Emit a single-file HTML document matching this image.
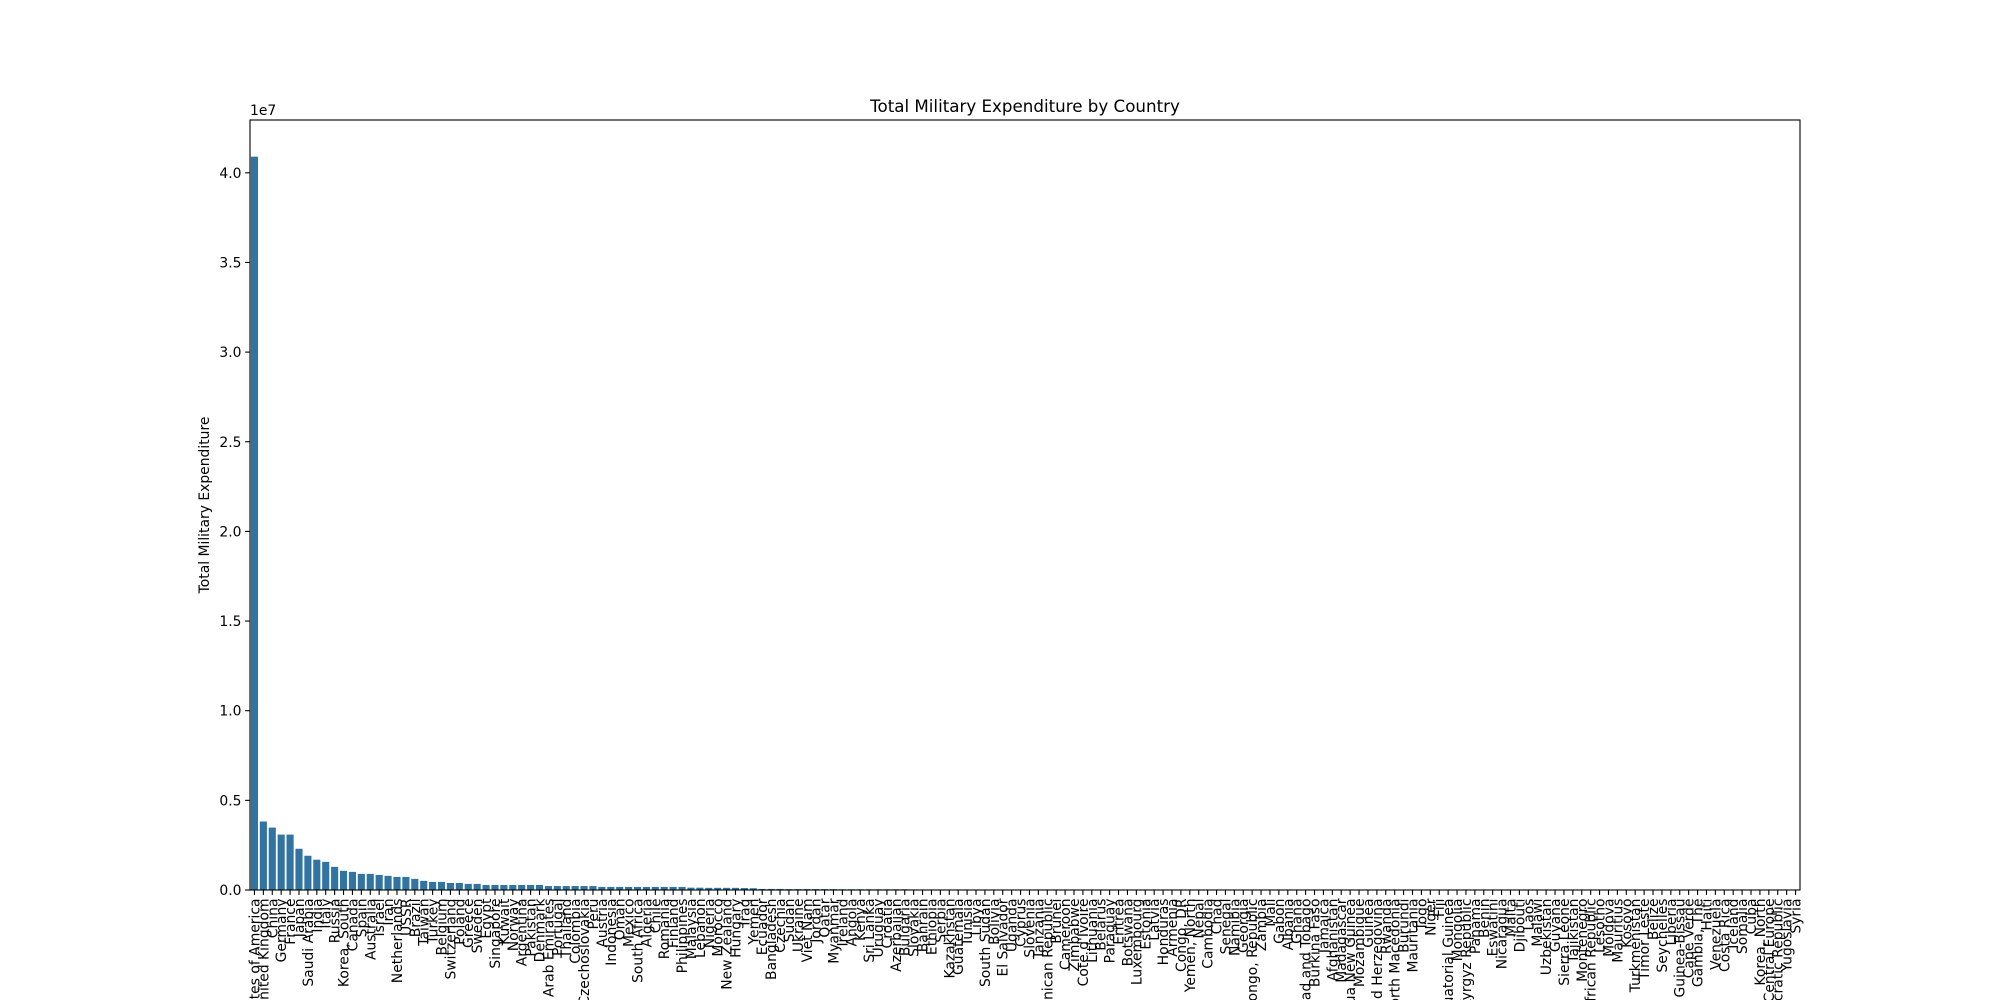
<!DOCTYPE html>
<html><head><meta charset="utf-8"><style>
html,body{margin:0;padding:0;background:#fff;width:2000px;height:1000px;overflow:hidden}
svg{display:block}
svg text{font-family:"DejaVu Sans","Liberation Sans",sans-serif;fill:#000}
</style></head><body>
<svg id="chart" width="2000" height="1000" viewBox="0 0 2000 1000" overflow="hidden" xmlns="http://www.w3.org/2000/svg"></svg>
<script>
const countries = ["United States of America","United Kingdom","China","Germany","France","Japan","Saudi Arabia","India","Italy","Russia","Korea, South","Canada","Spain","Australia","Israel","Iran","Netherlands","USSR","Brazil","Taiwan","Turkey","Belgium","Switzerland","Poland","Greece","Sweden","Egypt","Singapore","Kuwait","Norway","Argentina","Pakistan","Denmark","United Arab Emirates","Portugal","Thailand","Colombia","Czechoslovakia","Peru","Austria","Indonesia","Oman","Mexico","South Africa","Algeria","Chile","Romania","Finland","Philippines","Malaysia","Lebanon","Nigeria","Morocco","New Zealand","Hungary","Iraq","Yemen","Ecuador","Bangladesh","Czechia","Sudan","Ukraine","Viet Nam","Jordan","Qatar","Myanmar","Ireland","Angola","Kenya","Sri Lanka","Uruguay","Croatia","Azerbaijan","Bulgaria","Slovakia","Bahrain","Ethiopia","Serbia","Kazakhstan","Guatemala","Tunisia","Libya","South Sudan","Bolivia","El Salvador","Uganda","Cyprus","Slovenia","Tanzania","Dominican Republic","Brunei","Cameroon","Zimbabwe","Cote d'Ivoire","Lithuania","Belarus","Paraguay","Eritrea","Botswana","Luxembourg","Estonia","Latvia","Honduras","Armenia","Congo, DR","Yemen, North","Nepal","Cambodia","Chad","Senegal","Namibia","Georgia","Congo, Republic","Zambia","Mali","Gabon","Albania","Ghana","Trinidad and Tobago","Burkina Faso","Jamaica","Afghanistan","Madagascar","Papua New Guinea","Mozambique","Guinea","Bosnia and Herzegovina","Rwanda","North Macedonia","Burundi","Mauritania","Togo","Niger","Fiji","Equatorial Guinea","Mongolia","Kyrgyz Republic","Panama","Benin","Eswatini","Nicaragua","Malta","Djibouti","Laos","Malawi","Uzbekistan","Guyana","Sierra Leone","Tajikistan","Montenegro","Central African Republic","Lesotho","Moldova","Mauritius","Kosovo","Turkmenistan","Timor Leste","Belize","Seychelles","Liberia","Guinea-Bissau","Cape Verde","Gambia, The","Haiti","Venezuela","Costa Rica","Iceland","Somalia","Cuba","Korea, North","Central Europe","Democratic Republic","Yugoslavia","Syria"];
const headValues = [4.09,0.382,0.348,0.309,0.309,0.230,0.191,0.169,0.157,0.129,0.107,0.101,0.090,0.090,0.084,0.079,0.073,0.073,0.062,0.051,0.045,0.045,0.039,0.039,0.034,0.034,0.028,0.028,0.028,0.028,0.028,0.028,0.028,0.022,0.022,0.022,0.022,0.022,0.022,0.017,0.017,0.017,0.017,0.017,0.017,0.017,0.017,0.017,0.017,0.013,0.013,0.012,0.012,0.012,0.012,0.011,0.010,0.006,0.006,0.006,0.005,0.005,0.005,0.005,0.005,0.005,0.004,0.004,0.004,0.004,0.004,0.004,0.004,0.004,0.003,0.003,0.003,0.003];
const tailValues = [0.002,0.002,0.002,0.002,0.002,0.002,0.002,0.002,0.001,0.001,0.001,0.001,0.001,0.001,0.001,0.001,0.001,0.001,0.001,0.001,0.001,0.001,0.001,0.001,0.001,0.001,0.0008,0.0008,0.0008,0.0008,0.0008,0.0008,0.0008,0.0008,0.0006,0.0006,0.0006,0.0006,0.0006,0.0006,0.0006,0.0006,0.0005,0.0005,0.0005,0.0005,0.0005,0.0005,0.0005,0.0005,0.0004,0.0004,0.0004,0.0004,0.0004,0.0004,0.0004,0.0004,0.0003,0.0003,0.0003,0.0003,0.0003,0.0003,0.0003,0.0003,0.0002,0.0002,0.0002,0.0002,0.0002,0.0002,0.0002,0.0002,0.0001,0.0001,0.0001,0.0001,0.0001,0.0001,0.0001,0.0001,0.0001,0.0001,0.0001,0.0001,0.0001,0.0001,0.0001,0.0001,0.0001,0.0001,0.0001];
const yTicks = [0,0.5,1.0,1.5,2.0,2.5,3.0,3.5,4.0];
const yTickLabels = ["0.0","0.5","1.0","1.5","2.0","2.5","3.0","3.5","4.0"];

const values = countries.map((c,i)=> i<headValues.length ? headValues[i] : (tailValues[i-headValues.length] ?? 0));
const svg = document.getElementById('chart');
const NS = "http://www.w3.org/2000/svg";
const L=250,R=1800,T=120,B=890;
const n=countries.length;
const ymax=Math.max(...values)*1.05;
const xs = i => L + (i+0.5)/n*(R-L);
const ys = v => B - v/ymax*(B-T);
function mk(tag, attrs){const e=document.createElementNS(NS,tag);for(const k in attrs)e.setAttribute(k,attrs[k]);svg.appendChild(e);return e;}

const bw=0.8*(R-L)/n;
values.forEach((v,i)=>{
  const r=mk('rect',{x:xs(i)-bw/2,y:ys(v),width:bw,height:B-ys(v),fill:'#3274a1'});
  
  
});
countries.forEach((c,i)=>{
  const x=xs(i);
  const t=mk('line',{x1:x,x2:x,y1:B,y2:B+4.9,stroke:'#000','stroke-width':1.1});
  
  
  const tx=mk('text',{x:0,y:0,'font-size':'13.9','text-anchor':'end',transform:`translate(${x+5},${B+8.5}) rotate(-90)`});
  tx.textContent=c;
  
  
});
yTicks.forEach((v,i)=>{
  const y=ys(v);
  const t=mk('line',{x1:L-4.9,x2:L,y1:y,y2:y,stroke:'#000','stroke-width':1.1});
  
  
  const tx=mk('text',{x:L-8.5,y:y+5,'font-size':'13.9','text-anchor':'end'});
  tx.textContent=yTickLabels[i];
  
  
});
const frame=mk('rect',{x:L,y:T,width:R-L,height:B-T,fill:'none',stroke:'#000','stroke-width':1.1});


const off=mk('text',{x:L,y:T-5,'font-size':'13.9'});
off.textContent='1e7';


const title=mk('text',{x:(L+R)/2,y:T-8,'font-size':'16.7','text-anchor':'middle'});
title.textContent='Total Military Expenditure by Country';


const yl=mk('text',{x:0,y:0,'font-size':'13.9','text-anchor':'middle',transform:`translate(209,${(T+B)/2}) rotate(-90)`});
yl.textContent='Total Military Expenditure';


</script>
</body></html>
